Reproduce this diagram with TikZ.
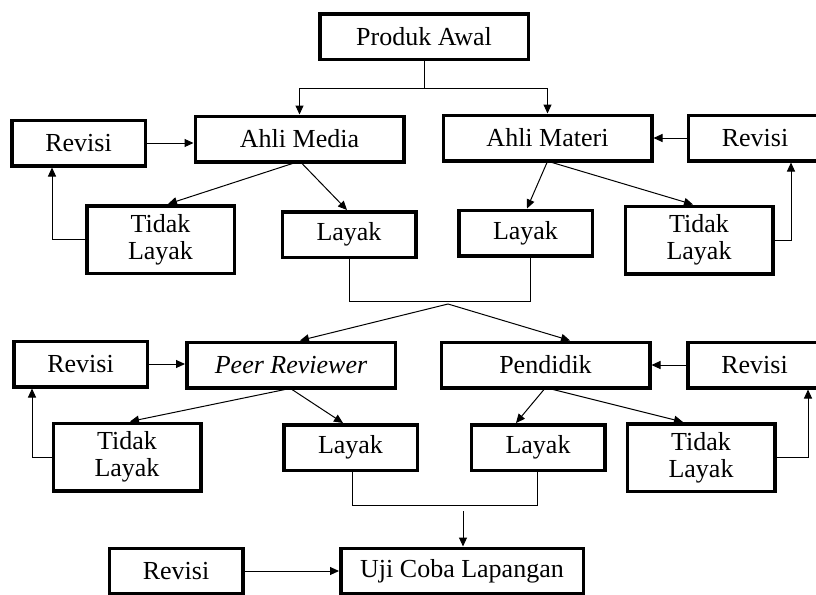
\documentclass[tikz,border=0pt]{standalone}
\usepackage{fontspec}
\setmainfont{Liberation Serif}
\usetikzlibrary{arrows.meta}

\tikzset{
  kotak/.style={draw,line width=3.5pt,inner sep=0pt,align=center,
    minimum height=45.5pt,font=\fontsize{26}{27}\selectfont},
  besar/.style={kotak,minimum width=208.5pt},
  revisi/.style={kotak,minimum width=133.5pt},
  layak/.style={kotak,minimum width=133.5pt},
  tidak/.style={kotak,minimum width=147.5pt,minimum height=67.5pt},
  panah/.style={line width=1pt,-{Triangle[length=9pt,width=8pt]}},
  garis/.style={line width=1pt}
}

\begin{document}
\begin{tikzpicture}[x=1pt,y=-1pt]
  % batas gambar
  \useasboundingbox (0,0) rectangle (816,594);
  \clip (0,0) rectangle (816,594);

  % produk awal dan validasi ahli
  \node[besar] (awal) at (424,37) {Produk Awal};
  \node[besar] (media) at (299.5,139) {Ahli Media};
  \node[besar] (materi) at (547.5,138) {Ahli Materi};
  \node[revisi] (revL1) at (78.5,143) {Revisi};
  \node[revisi] (revR1) at (755,138) {Revisi};
  \node[tidak] (tlL1) at (160.5,239.5) {Tidak\\Layak};
  \node[layak] (lay1) at (349,234.5) {Layak};
  \node[layak] (lay2) at (525.5,233) {Layak};
  \node[tidak] (tlR1) at (699,240) {Tidak\\Layak};

  \draw[garis] (awal.south) -- ++(0,27) coordinate (cab1);
  \draw[panah] (cab1) -| (media.north);
  \draw[panah] (cab1) -| (materi.north);
  \draw[panah] (revL1.east) -- (revL1.east -| media.west);
  \draw[panah] (revR1.west) -- (revR1.west -| materi.east);
  \draw[panah] ([xshift=-7pt]media.south) -- ([xshift=7.5pt]tlL1.north);
  \draw[panah] ([xshift=2.5pt]media.south) -- ([xshift=-2pt]lay1.north);
  \draw[panah] ([xshift=-0.5pt]materi.south) -- ([xshift=1.5pt]lay2.north);
  \draw[panah] ([xshift=4.5pt]materi.south) -- ([xshift=-6pt]tlR1.north);
  \draw[panah] (tlL1.west) -| ([xshift=-26.5pt]revL1.south);
  \draw[panah] (tlR1.east) -| ([xshift=36pt]revR1.south);

  % gabungan layak pertama
  \draw[garis] (lay1.south) -- ++(0,42) -| ([xshift=4.5pt]lay2.south);
  \coordinate (cab2) at (448,304);

  % peer reviewer dan pendidik
  \node[besar] (peer) at (291,365) {\itshape Peer Reviewer};
  \node[besar] (didik) at (545.5,365) {Pendidik};
  \node[revisi] (revL2) at (80.5,364) {Revisi};
  \node[revisi] (revR2) at (754.5,365) {Revisi};
  \node[tidak] (tlL2) at (127,457) {Tidak\\Layak};
  \node[layak] (lay3) at (350.5,447.5) {Layak};
  \node[layak] (lay4) at (538,447.5) {Layak};
  \node[tidak] (tlR2) at (701,457.5) {Tidak\\Layak};

  \draw[panah] (cab2) -- ([xshift=9pt]peer.north);
  \draw[panah] (cab2) -- ([xshift=24.5pt]didik.north);
  \draw[panah] (revL2.east) -- (revL2.east -| peer.west);
  \draw[panah] (revR2.west) -- (revR2.west -| didik.east);
  \draw[panah] ([xshift=-6pt]peer.south) -- ([xshift=3pt]tlL2.north);
  \draw[panah] ([xshift=1pt]peer.south) -- ([xshift=-7.5pt]lay3.north);
  \draw[panah] ([xshift=-1.5pt]didik.south) -- ([xshift=-22pt]lay4.north);
  \draw[panah] ([xshift=7.5pt]didik.south) -- ([xshift=-18pt]tlR2.north);
  \draw[panah] (tlL2.west) -| ([xshift=-48.5pt]revL2.south);
  \draw[panah] (tlR2.east) -| ([xshift=53.5pt]revR2.south);

  % gabungan layak kedua
  \draw[garis] ([xshift=1.5pt]lay3.south) -- ++(0,33) -| ([xshift=-1pt]lay4.south);
  \coordinate (cab3) at (463,511);

  % uji coba
  \node[kotak,minimum width=242.5pt] (uji) at (462,571) {Uji Coba Lapangan};
  \node[revisi] (revB) at (176,571) {Revisi};
  \draw[panah] (cab3) -- (cab3 |- uji.north);
  \draw[panah] (revB.east) -- (uji.west);
\end{tikzpicture}
\end{document}
